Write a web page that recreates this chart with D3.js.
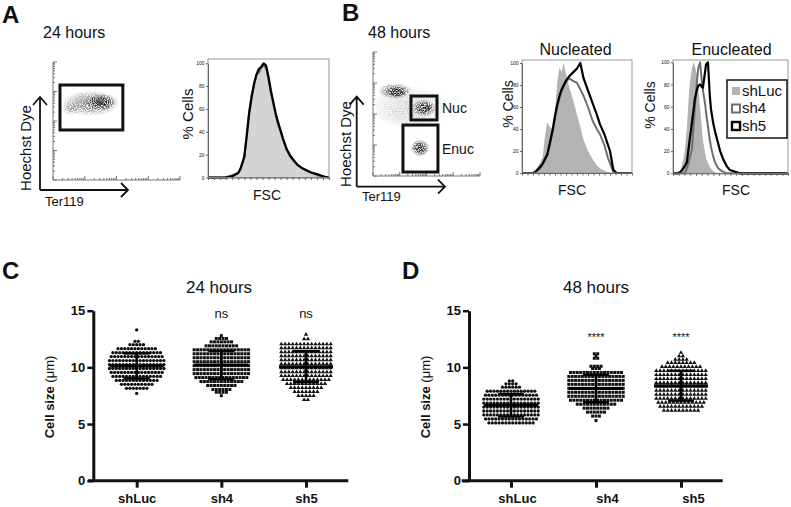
<!DOCTYPE html>
<html>
<head>
<meta charset="utf-8">
<script src="https://cdn.jsdelivr.net/npm/d3@7"></script>
<style>
body { margin: 0; background: #fff; }
text { font-family: "Liberation Sans", Arial, sans-serif; fill: #111; }
</style>
</head>
<body>
<script>
// ---------- data ----------
var groups = ["shLuc", "sh4", "sh5"]
var sizeTicks = [0, 5, 10, 15]
var pctTicks = [0, 20, 40, 60, 80, 100]

// cell size dot plots, one row per size class: [cell size (um), number of cells]
var luc24 = [[13.3,1],[12.3,2],[12.0,5],[11.65,12],[11.3,15],[10.95,16],[10.6,17],[10.25,17],[9.9,17],[9.55,16],[9.2,15],[8.85,13],[8.5,10],[8.15,7],[7.7,1]]
var sh4_24 = [[12.8,1],[12.55,4],[12.25,7],[11.9,10],[11.55,17],[11.2,17],[10.85,17],[10.5,17],[10.15,17],[9.8,17],[9.45,17],[9.1,16],[8.75,13],[8.4,9],[8.05,6],[7.8,4],[7.5,1]]
var sh5_24 = [[12.9,1],[12.5,2],[12.05,14],[11.7,14],[11.35,14],[11.0,14],[10.65,14],[10.3,14],[9.95,14],[9.6,14],[9.25,14],[8.9,13],[8.55,11],[8.2,9],[7.85,7],[7.5,5],[7.15,2]]
var luc48 = [[8.8,2],[8.55,4],[8.25,6],[7.9,15],[7.55,16],[7.2,17],[6.85,17],[6.5,17],[6.15,17],[5.8,17],[5.45,16],[5.1,14]]
var sh4_48 = [[11.2,2],[11.0,1],[10.8,2],[10.1,4],[9.9,3],[9.55,16],[9.2,17],[8.85,17],[8.5,17],[8.15,17],[7.8,17],[7.45,17],[7.1,16],[6.75,12],[6.4,8],[6.05,6],[5.7,3],[5.3,1]]
var sh5_48 = [[11.3,1],[11.0,2],[10.7,4],[10.4,8],[10.05,11],[9.7,14],[9.35,14],[9.0,14],[8.65,14],[8.3,14],[7.95,14],[7.6,14],[7.25,14],[6.9,13],[6.55,12],[6.2,10]]
var signif24 = ["", "ns", "ns"]
var signif48 = ["", "****", "****"]

// FSC histograms (% of max), FSC in channel units 0-100
var fscA = [0,14,20,25,27,30,32,34,36,38,40,42,44,46,48,50,52,54,56,58,60,62,65,68,71,74,78,82,86,90,94,97,100]
var lucA = [0,0,2,5,10,20,40,60,72,82,88,93,97,100,94,85,72,62,52,44,38,31,22,17,13,10,7,5,3,2,1,0,0]
var sh4A = [0,0,2,4,8,18,38,58,72,80,90,92,96,98,96,86,74,64,54,46,40,33,24,18,14,11,8,6,4,2,1,0.5,0]
var sh5A = [0,0,1,4,8,18,36,56,70,82,90,95,97,100,98,88,76,66,56,48,41,34,25,19,15,11,8,6,4,3,1.5,0.5,0]

var fscNuc = [0,10,12,14,17,19,21,23,25,28,30,32,34,36,38,40,43,46,50,53,56,60,64,68,71,75,78,80,83,86,90,100]
var lucNuc = [0,0,2,5,10,16,35,46,42,40,56,82,96,92,100,90,78,68,53,42,30,20,13,7,4,2,1,0.5,0,0,0,0]
var sh4Nuc = [0,0,0.5,2,5,8,12,16,24,38,50,60,68,74,79,83,86,84,82,76,70,60,48,40,35,25,14,9,1,0,0,0]
var sh5Nuc = [0,0,1,3,6,9,13,17,26,40,52,62,70,76,80,84,88,91,95,100,86,75,64,53,44,35,26,20,3,0,0,0]

var fscEnuc = [0,4,6,8,10,12,13,14.5,16.5,18,19,21,22,23.5,25,26,28,28.7,30.4,32,33,35,36.5,39,41,43.5,47,49.5,58,100]
var lucEnuc = [0,0,1,8,18,40,58,80,95,100,97,88,75,60,42,30,18,14,9,6,4,2,1,0,0,0,0,0,0,0]
var sh4Enuc = [0,0,0,0,0,4,8,14,22,45,60,85,95,100,84,75,62,55,42,30,24,15,10,5,3,1.5,0,0,0,0]
var sh5Enuc = [0,0,1,3,6,10,18,30,46,58,67,76,79,80,78,77,92,98,100,70,58,45,38,28,20,13,6,3,0,0]

// flow dot plots, Ter119 / Hoechst in channel units 0-100
// clouds: [ter119, hoechst, spread x, spread y, density]
var cloudsA = [[30,65,23,11,0.55],[14,61,7,6,0.35],[38,66,12,7,1]]
var gatesA = [[5.5,42.4,55,80.5]]
var cloudsB = [[35,55,38,18,0.2],[20.6,68.5,16,6.5,0.75],[22.4,67.7,9,4.5,0.95],[47.7,54.8,11,7,1],[44,22.6,9,7,1]]
var gatesB = [[35.5,45.2,59.8,64.5],[28,3.2,60.7,41.1]]
var gateNamesB = ["Nuc", "Enuc"]

// ---------- drawing ----------
var svg = d3.select("body").append("svg").attr("width", 791).attr("height", 507)
var defs = svg.append("defs")
var grad = defs.append("radialGradient").attr("id", "blob")
grad.append("stop").attr("offset", "0%").attr("stop-color", "#000").attr("stop-opacity", 1)
grad.append("stop").attr("offset", "45%").attr("stop-color", "#000").attr("stop-opacity", 0.75)
grad.append("stop").attr("offset", "100%").attr("stop-color", "#000").attr("stop-opacity", 0)

// speckle texture for the flow clouds
var grain = defs.append("filter").attr("id", "grain").attr("x", "-20%").attr("y", "-20%").attr("width", "140%").attr("height", "140%")
grain.append("feTurbulence").attr("type", "fractalNoise").attr("baseFrequency", 0.95).attr("numOctaves", 1).attr("seed", 4).attr("result", "n")
grain.append("feColorMatrix").attr("in", "n").attr("type", "matrix")
  .attr("values", "0 0 0 0 0  0 0 0 0 0  0 0 0 0 0  0 0 0 3.5 -1.1").attr("result", "m")
grain.append("feComposite").attr("in", "SourceGraphic").attr("in2", "m").attr("operator", "in")

function label(x, y, s, size, anchor, weight, rotate) {
  var t = svg.append("text")
    .attr("transform", "translate(" + x + "," + y + ")" + (rotate ? " rotate(-90)" : ""))
    .attr("font-size", size)
    .attr("text-anchor", anchor || "start")
    .attr("font-weight", weight || "normal")
    .text(s)
  return t
}

function arrows(x0, y0, top, right) {
  var g = svg.append("g").attr("fill", "none").attr("stroke", "#111").attr("stroke-width", 1.8)
  g.append("path").attr("d", "M" + x0 + "," + y0 + "V" + top + "M" + (x0 - 7) + "," + (top + 8) + "L" + x0 + "," + top + "L" + (x0 + 7) + "," + (top + 8))
  g.append("path").attr("d", "M" + x0 + "," + y0 + "H" + right + "M" + (right - 7) + "," + (y0 - 7) + "L" + right + "," + y0 + "L" + (right - 7) + "," + (y0 + 7))
}

function dotPlot(left, right, top, bottom, clouds, gates) {
  var x = d3.scaleLinear().domain([0, 100]).range([left, right])
  var y = d3.scaleLinear().domain([0, 100]).range([bottom, top])
  var g = svg.append("g")
  g.append("g").attr("filter", "url(#grain)")
    .selectAll("ellipse").data(clouds).join("ellipse")
    .attr("cx", d => x(d[0])).attr("cy", d => y(d[1]))
    .attr("rx", d => x(d[2]) - x(0)).attr("ry", d => y(0) - y(d[3]))
    .attr("fill", "url(#blob)").attr("fill-opacity", d => d[4])

  // log decade axes
  var lx = d3.scaleLog().domain([1, 1e4]).range([left, right])
  var ly = d3.scaleLog().domain([1, 1e4]).range([bottom, top])
  var ax = g.append("g").attr("stroke", "#777").attr("stroke-width", 1)
  ax.append("path").attr("d", "M" + left + "," + top + "V" + bottom + "H" + right).attr("fill", "none")
  ax.selectAll(".tx").data(lx.ticks()).join("line")
    .attr("x1", d => lx(d)).attr("x2", d => lx(d))
    .attr("y1", bottom).attr("y2", d => bottom - (Math.log10(d) % 1 === 0 ? 4 : 2))
  ax.selectAll(".ty").data(ly.ticks()).join("line")
    .attr("y1", d => ly(d)).attr("y2", d => ly(d))
    .attr("x1", left).attr("x2", d => left + (Math.log10(d) % 1 === 0 ? 4 : 2))

  g.selectAll("rect").data(gates).join("rect")
    .attr("x", d => x(d[0])).attr("y", d => y(d[3]))
    .attr("width", d => x(d[2]) - x(d[0])).attr("height", d => y(d[1]) - y(d[3]))
    .attr("fill", "none").attr("stroke", "#111").attr("stroke-width", 3)
  return {x: x, y: y}
}

function histPanel(left, right, top, zeroY, fullY, grid, luc, sh4, sh5, fillCol) {
  var x = d3.scaleLinear().domain([0, 100]).range([left, right])
  var y = d3.scaleLinear().domain([0, 100]).range([zeroY, fullY])
  var g = svg.append("g")
  var pts = function(vals) { return grid.map((v, i) => [v, vals[i]]) }
  g.append("path").datum(pts(luc))
    .attr("d", d3.area().x(d => x(d[0])).y0(zeroY).y1(d => y(d[1])))
    .attr("fill", fillCol)
  var line = d3.line().x(d => x(d[0])).y(d => y(d[1]))
  g.append("path").datum(pts(sh4)).attr("d", line)
    .attr("fill", "none").attr("stroke", "#6e6e6e").attr("stroke-width", 2).attr("stroke-linejoin", "round")
  g.append("path").datum(pts(sh5)).attr("d", line)
    .attr("fill", "none").attr("stroke", "#000").attr("stroke-width", 2.2).attr("stroke-linejoin", "round")

  g.append("rect").attr("x", left).attr("y", top).attr("width", right - left).attr("height", zeroY - top)
    .attr("fill", "none").attr("stroke", "#999").attr("stroke-width", 1)

  var yAxis = d3.axisLeft(y).tickValues(pctTicks).tickSize(2).tickPadding(1.5).tickSizeOuter(0)
  var ga = g.append("g").attr("transform", "translate(" + left + ",0)").call(yAxis)
  ga.select(".domain").attr("stroke", "#666")
  ga.selectAll(".tick line").attr("stroke", "#666")
  ga.selectAll("text").attr("font-size", 5).attr("fill", "#333").attr("font-family", "Liberation Sans, Arial, sans-serif")

  var xAxis = d3.axisBottom(x).tickValues(d3.range(0, 101, 5)).tickSize(2.5).tickFormat("").tickSizeOuter(0)
  var gx = g.append("g").attr("transform", "translate(0," + zeroY + ")").call(xAxis)
  gx.select(".domain").attr("stroke", "#666")
  gx.selectAll(".tick line").attr("stroke", "#666")
}

function sizePanel(axisX, xStart, xEnd, centers, sets, marks, labelDx, title, titleX) {
  var y = d3.scaleLinear().domain([0, 15]).range([480.7, 310.7])
  var x = d3.scalePoint().domain(groups).range(centers)
  var g = svg.append("g")
  var shapes = [d3.symbolCircle, d3.symbolSquare, d3.symbolTriangle]
  var sizes = [8.5, 9, 8]
  var gaps = [3.4, 3.4, 3.8]

  sets.forEach(function(rows, gi) {
    var pts = []
    rows.forEach(function(r) {
      for (var i = 0; i < r[1]; i++) pts.push([x(groups[gi]) + (i - (r[1] - 1) / 2) * gaps[gi], y(r[0])])
    })
    g.append("g").selectAll("path").data(pts).join("path")
      .attr("transform", d => "translate(" + d[0] + "," + d[1] + ")")
      .attr("d", d3.symbol().type(shapes[gi]).size(sizes[gi]))
      .attr("fill", "#111")

    // mean and SD
    var n = d3.sum(rows, r => r[1])
    var m = d3.sum(rows, r => r[0] * r[1]) / n
    var sd = Math.sqrt(d3.sum(rows, r => r[1] * (r[0] - m) * (r[0] - m)) / (n - 1))
    var cx = x(groups[gi])
    var eb = g.append("g").attr("stroke", "#000")
    eb.append("line").attr("x1", cx).attr("x2", cx).attr("y1", y(m - sd)).attr("y2", y(m + sd)).attr("stroke-width", 2.5)
    eb.append("line").attr("x1", cx - 13).attr("x2", cx + 13).attr("y1", y(m - sd)).attr("y2", y(m - sd)).attr("stroke-width", 2.5)
    eb.append("line").attr("x1", cx - 13).attr("x2", cx + 13).attr("y1", y(m + sd)).attr("y2", y(m + sd)).attr("stroke-width", 2.5)
    eb.append("line").attr("x1", cx - 27).attr("x2", cx + 27).attr("y1", y(m)).attr("y2", y(m)).attr("stroke-width", 3)
  })

  // axes
  var yAxis = d3.axisLeft(y).tickValues(sizeTicks).tickSize(6).tickPadding(2).tickSizeOuter(0)
  var ga = g.append("g").attr("transform", "translate(" + axisX + ",0)").call(yAxis)
  ga.select(".domain").attr("stroke", "#111").attr("stroke-width", 3)
  ga.selectAll(".tick line").attr("stroke", "#111").attr("stroke-width", 2.5)
  ga.selectAll("text").attr("font-size", 13).attr("font-weight", "bold").attr("fill", "#111")
    .attr("font-family", "Liberation Sans, Arial, sans-serif")

  var xAxis = d3.axisBottom(x).tickSize(7).tickSizeOuter(0).tickPadding(6)
  var gx = g.append("g").attr("transform", "translate(0," + y(0) + ")").call(xAxis)
  gx.select(".domain").attr("d", "M" + xStart + ",0H" + xEnd).attr("stroke", "#111").attr("stroke-width", 3)
  gx.selectAll(".tick line").attr("stroke", "#111").attr("stroke-width", 3)
  gx.selectAll("text").attr("font-size", 13).attr("font-weight", "bold").attr("fill", "#111")
    .attr("font-family", "Liberation Sans, Arial, sans-serif")
    .attr("dy", "0.71em").attr("dx", (d, i) => labelDx[i])

  // significance marks
  g.selectAll(".sig").data(marks).join("text")
    .attr("x", (d, i) => x(groups[i]))
    .attr("y", d => d === "ns" ? 318 : 341)
    .attr("text-anchor", "middle")
    .attr("font-size", d => d === "ns" ? 13 : 11)
    .attr("fill", "#222")
    .text(d => d)

  // y label
  var t = label(axisX - 39, 397, "Cell size ", 13, "middle", "bold", true)
  t.append("tspan").attr("font-weight", "normal").text("(\u03bcm)")
  label(titleX, 293, title, 17, "middle")
}

// ---- panel A ----
label(2, 23, "A", 24, "start", "bold")
label(43, 38, "24 hours", 16)
dotPlot(53, 180, 62, 180, cloudsA, gatesA)
arrows(40, 190, 97, 128)
label(31, 148, "Hoechst Dye", 15, "middle", "normal", true)
label(45, 206, "Ter119", 13)
histPanel(208, 329, 59, 177.5, 63.3, fscA, lucA, sh4A, sh5A, "#d4d4d4")
label(193, 114, "% Cells", 15, "middle", "normal", true)
label(267, 200, "FSC", 14, "middle")

// ---- panel B ----
label(342, 21, "B", 24, "start", "bold")
label(368, 38, "48 hours", 16)
var pb = dotPlot(373, 480, 52, 176, cloudsB, gatesB)
gatesB.forEach(function(d, i) {
  label(442, (pb.y(d[1]) + pb.y(d[3])) / 2 + 5, gateNamesB[i], 14)
})
arrows(356.7, 186.7, 96.7, 445)
label(351, 144, "Hoechst Dye", 15, "middle", "normal", true)
label(362, 201, "Ter119", 13)

label(575.5, 55, "Nucleated", 16, "middle")
histPanel(522, 632, 60, 173, 63, fscNuc, lucNuc, sh4Nuc, sh5Nuc, "#b3b3b3")
label(513, 104, "% Cells", 14, "middle", "normal", true)
label(572, 195, "FSC", 14, "middle")

label(731.5, 55, "Enucleated", 16, "middle")
histPanel(673, 788, 60, 173.3, 62.3, fscEnuc, lucEnuc, sh4Enuc, sh5Enuc, "#b3b3b3")
label(655, 105, "% Cells", 14, "middle", "normal", true)
label(736, 195, "FSC", 14, "middle")

// legend
var lg = svg.append("g")
lg.append("rect").attr("x", 727).attr("y", 80).attr("width", 60).attr("height", 58)
  .attr("fill", "#fff").attr("stroke", "#111").attr("stroke-width", 1.5)
var legStyles = [["#b3b3b3", "none", 0], ["#fff", "#6e6e6e", 2], ["#fff", "#000", 2.4]]
groups.forEach(function(name, i) {
  var yy = 87 + i * 17.5
  lg.append("rect").attr("x", 732).attr("y", yy).attr("width", 8).attr("height", 8)
    .attr("fill", legStyles[i][0]).attr("stroke", legStyles[i][1]).attr("stroke-width", legStyles[i][2])
  lg.append("text").attr("x", 742).attr("y", yy + 8.5).attr("font-size", 15).text(name)
})

// ---- panels C and D ----
label(2, 279, "C", 24, "start", "bold")
sizePanel(93.3, 88, 348.3, [136.7, 306], [luc24, sh4_24, sh5_24], signif24, [0, 0, 0], "24 hours", 219)
label(402, 279, "D", 24, "start", "bold")
sizePanel(469, 461.7, 722.7, [511, 681], [luc48, sh4_48, sh5_48], signif48, [6, 11, 12], "48 hours", 596)
</script>
</body>
</html>
